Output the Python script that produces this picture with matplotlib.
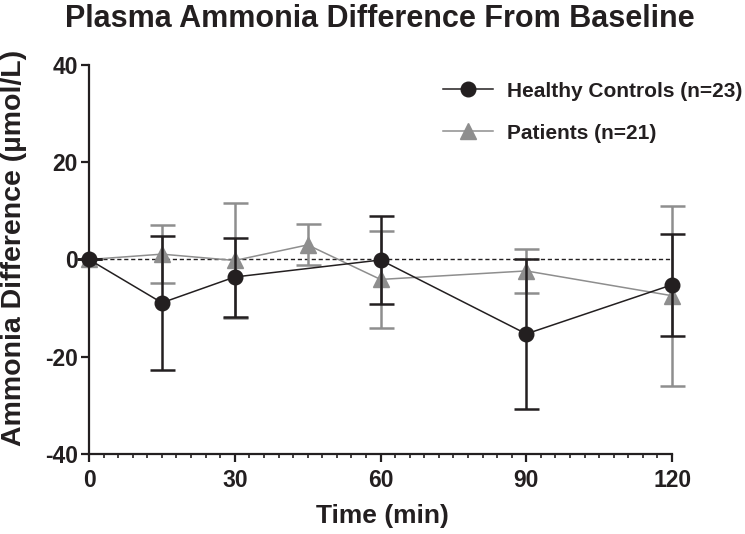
import matplotlib.pyplot as plt
from matplotlib.ticker import MultipleLocator

plt.rcParams['font.family'] = ['Liberation Sans', 'DejaVu Sans']
plt.rcParams['font.weight'] = 'bold'
plt.rcParams['axes.unicode_minus'] = False

# data
times = [0, 15, 30, 60, 90, 120]
ctrl_mean = [0.0, -8.9, -3.6, -0.1, -15.3, -5.2]
ctrl_lo = [0.0, 13.8, 8.2, 9.0, 15.5, 10.5]
ctrl_hi = [0.0, 13.7, 8.1, 9.0, 15.4, 10.5]

pat_times = [0, 15, 30, 45, 60, 90, 120]
pat_mean = [0.0, 1.1, -0.2, 3.0, -4.1, -2.35, -7.45]
pat_err = [0.0, 6.0, 11.9, 4.2, 9.9, 4.55, 18.55]

labels = ['Healthy Controls (n=23)', 'Patients (n=21)']
black = '#231f20'
grey = '#8e8e8e'

fig = plt.figure(figsize=(7.45, 5.34), dpi=100)
ax = fig.add_axes([0.1195, 0.1498, 0.7826, 0.7285])

ax.axhline(0, color=black, lw=1.0, ls=(0, (3, 2)), zorder=1)

pat = ax.errorbar(pat_times, pat_mean, yerr=pat_err, color=grey, marker='^', ms=11,
                  lw=1.1, elinewidth=1.8, capsize=9, capthick=1.8, label=labels[1], zorder=2)
ctrl = ax.errorbar(times, ctrl_mean, yerr=[ctrl_lo, ctrl_hi], color=black, marker='o', ms=10.5,
                   lw=1.1, elinewidth=1.8, capsize=9, capthick=1.8, label=labels[0], zorder=3)
for eb in (pat, ctrl):
    for a in eb.get_children():
        a.set_clip_on(False)

ax.set_xlim(0, 120)
ax.set_ylim(-40, 40)
ax.xaxis.set_major_locator(MultipleLocator(30))
ax.xaxis.set_minor_locator(MultipleLocator(3))
ax.yaxis.set_major_locator(MultipleLocator(20))

for s in ['top', 'right']:
    ax.spines[s].set_visible(False)
for s in ['left', 'bottom']:
    ax.spines[s].set_linewidth(1.6)
    ax.spines[s].set_color(black)
ax.tick_params(which='major', length=6, width=1.6, color=black, labelsize=16.5, labelcolor=black)
ax.tick_params(axis='x', which='major', pad=5)
ax.tick_params(axis='y', which='major', pad=2)
ax.tick_params(which='minor', length=3, width=1.2, color=black)
for t in ax.get_xticklabels() + ax.get_yticklabels():
    t.set_fontweight('bold')

ax.set_xlabel('Time (min)', fontsize=19, fontweight='bold', color=black)
ax.xaxis.set_label_coords(0.503, -0.128)
ax.set_ylabel('Ammonia Difference (µmol/L)', fontsize=20.5, fontweight='bold', color=black)
ax.yaxis.set_label_coords(-0.107, 0.53)
fig.suptitle('Plasma Ammonia Difference From Baseline', fontsize=22, fontweight='bold',
             color=black, x=0.51, y=0.993)

h, l = ax.get_legend_handles_labels()
h = [x[0] for x in h]
leg = fig.legend(h[::-1], l[::-1], loc='upper left', bbox_to_anchor=(0.5946, 0.847), frameon=False,
                 fontsize=15, handlelength=2.4, labelspacing=1.1, handletextpad=0.65,
                 borderpad=0, borderaxespad=0)
for t in leg.get_texts():
    t.set_fontweight('bold')
    t.set_color(black)

fig.savefig('out.png', dpi=100)
